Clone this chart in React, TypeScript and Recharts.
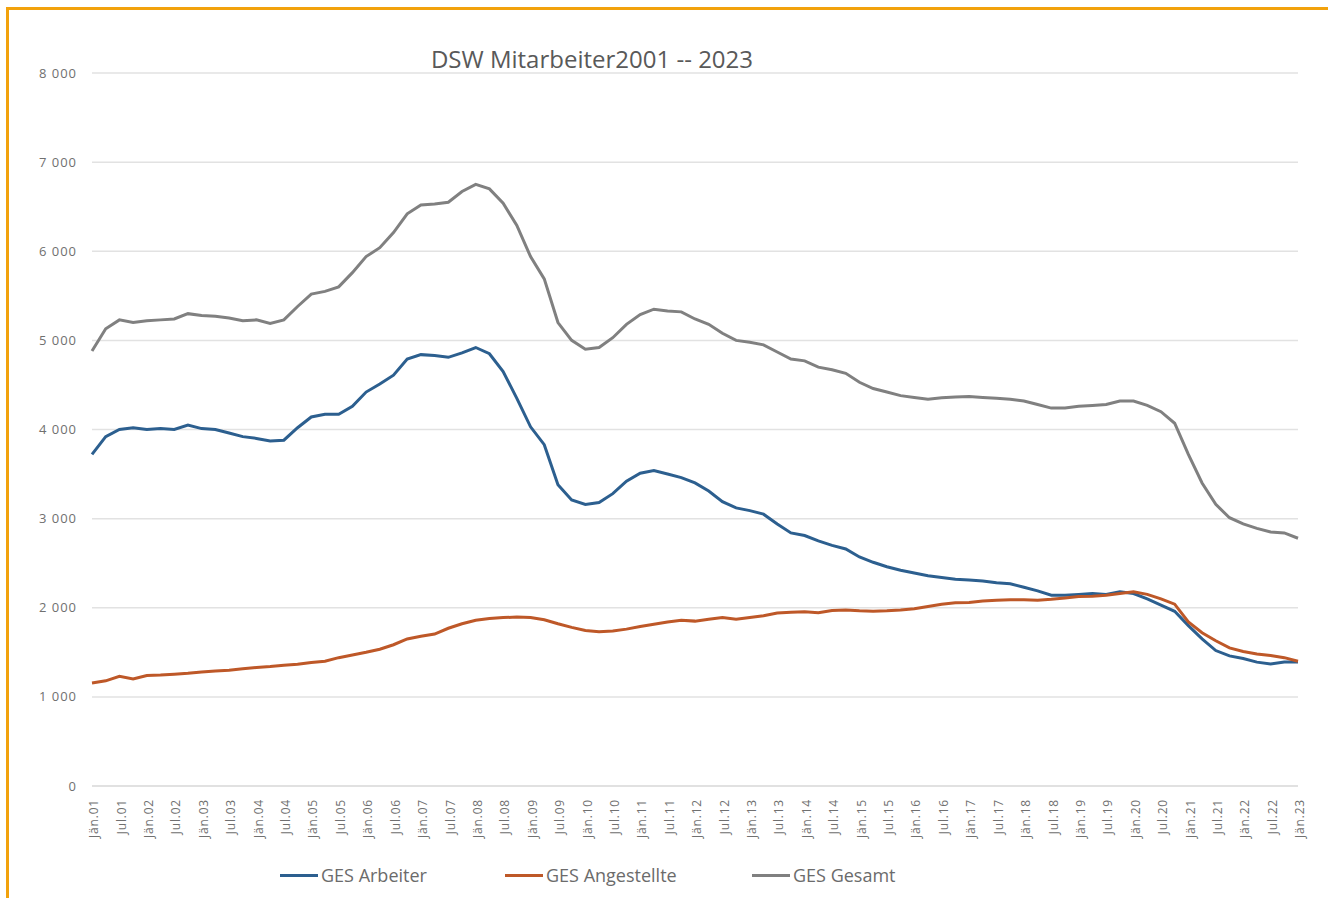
import React from "react"
import { LineChart, Line, XAxis, YAxis, CartesianGrid, Legend } from "recharts"

// quarterly readings, Jän.01 .. Jän.23
const years = ["01", "02", "03", "04", "05", "06", "07", "08", "09", "10", "11", "12", "13", "14", "15", "16", "17", "18", "19", "20", "21", "22"]
const months = ["Jän", "Apr", "Jul", "Okt"]
const categories = [...years.flatMap((y) => months.map((m) => `${m}.${y}`)), "Jän.23"]

const arbeiter = [
  3720, 3920, 4000, 4020, 4000, 4010, 4000, 4050, 4010, 4000, 3960, 3920, 3900, 3870, 3880, 4020,
  4140, 4170, 4170, 4260, 4420, 4510, 4610, 4790, 4840, 4830, 4810, 4860, 4920, 4850, 4650, 4350,
  4030, 3830, 3380, 3210, 3160, 3180, 3280, 3420, 3510, 3540, 3500, 3460, 3400, 3310, 3190, 3120,
  3090, 3050, 2940, 2840, 2810, 2750, 2700, 2660, 2570, 2510, 2460, 2420, 2390, 2360, 2340, 2320,
  2310, 2300, 2280, 2270, 2230, 2190, 2140, 2140, 2150, 2160, 2150, 2180, 2160, 2100, 2030, 1960,
  1800, 1650, 1520, 1460, 1430, 1390, 1370, 1390, 1390,
]

const angestellte = [
  1155, 1180, 1230, 1200, 1240, 1245, 1255, 1265, 1280, 1290, 1300, 1315, 1330, 1340, 1355, 1365,
  1385, 1400, 1440, 1470, 1500, 1535, 1585, 1650, 1680, 1705, 1770, 1820, 1860, 1880, 1890, 1895,
  1890, 1865, 1820, 1780, 1745, 1730, 1740, 1760, 1790, 1815, 1840, 1860, 1850, 1870, 1890, 1870,
  1890, 1910, 1940, 1950, 1955, 1945, 1970, 1975, 1965, 1960, 1965, 1975, 1990, 2015, 2040, 2055,
  2060, 2075, 2085, 2090, 2090, 2085, 2095, 2110, 2125, 2130, 2140, 2160, 2180, 2150, 2100, 2040,
  1840, 1720, 1630, 1550, 1510, 1480, 1465, 1440, 1400,
]

const gesamt = [
  4880, 5130, 5230, 5200, 5220, 5230, 5240, 5300, 5280, 5270, 5250, 5220, 5230, 5190, 5230, 5380,
  5520, 5550, 5600, 5760, 5940, 6040, 6210, 6420, 6520, 6530, 6550, 6670, 6750, 6700, 6540, 6290,
  5940, 5690, 5200, 5000, 4900, 4920, 5030, 5180, 5290, 5350, 5330, 5320, 5240, 5180, 5080, 5000,
  4980, 4950, 4870, 4790, 4770, 4700, 4670, 4630, 4530, 4460, 4420, 4380, 4360, 4340, 4355, 4365,
  4370, 4360, 4350, 4340, 4320, 4280, 4240, 4240, 4260, 4270, 4280, 4320, 4320, 4270, 4200, 4070,
  3720, 3400, 3160, 3010, 2940, 2890, 2850, 2840, 2780,
]

const yTicks = [0, 1000, 2000, 3000, 4000, 5000, 6000, 7000, 8000]

const series = [
  { key: "arbeiter", name: "GES Arbeiter", color: "#2C5F8F" },
  { key: "angestellte", name: "GES Angestellte", color: "#BE5828" },
  { key: "gesamt", name: "GES Gesamt", color: "#808080" },
]

const data = categories.map((c, i) => ({
  label: c,
  arbeiter: arbeiter[i],
  angestellte: angestellte[i],
  gesamt: gesamt[i],
}))

const font = "'Open Sans', sans-serif"
const textColor = "#595959"
const tickColor = "#707070"

const fmt = (v: number) => String(v).replace(/\B(?=(\d{3})+(?!\d))/g, " ")

const XTick = ({ x, y, payload }: any) => (
  <g transform={`translate(${x + 2},${y})`}>
    <text
      x={-11}
      y={0}
      dy="0.35em"
      transform="rotate(-90)"
      textAnchor="end"
      fill={tickColor}
      fontSize={12}
      letterSpacing={0.8}
      fontFamily={font}
    >
      {payload.value}
    </text>
  </g>
)

const legendLeft = [280, 505, 752]

const renderLegend = () => (
  <div style={{ position: "relative", height: 40, fontFamily: font, fontSize: 18, color: "#6B6B6B" }}>
    {series.map((s, i) => (
      <div key={s.key} style={{ position: "absolute", left: legendLeft[i], top: 15, display: "flex", alignItems: "center", whiteSpace: "nowrap" }}>
        <span style={{ display: "inline-block", width: 38, height: 3, background: s.color, marginRight: 3 }} />
        <span>{s.name}</span>
      </div>
    ))}
  </div>
)

export default function App() {
  return (
    <div style={{ position: "absolute", left: 0, top: 0, width: 1328, height: 898, background: "#fff", overflow: "hidden" }}>
      <div style={{ position: "absolute", left: 6, top: 7, right: 0, bottom: 0, borderTop: "3px solid #F2A20C", borderLeft: "3px solid #F2A20C" }} />
      <div style={{ position: "absolute", left: 0, width: 1184, top: 42, textAlign: "center", fontFamily: font, fontSize: 24, color: textColor }}>
        DSW Mitarbeiter2001 -- 2023
      </div>
      <LineChart width={1328} height={898} data={data} margin={{ top: 73, right: 30, left: 0, bottom: 10 }}>
        <CartesianGrid vertical={false} stroke="#E2E2E2" strokeWidth={1.5} />
        <XAxis
          dataKey="label"
          interval={1}
          height={62}
          tick={<XTick />}
          tickLine={false}
          tickSize={0}
          axisLine={{ stroke: "#D9D9D9" }}
        />
        <YAxis
          width={92}
          domain={[0, 8000]}
          ticks={yTicks}
          tickFormatter={fmt}
          tickLine={false}
          tickSize={0}
          tickMargin={15}
          axisLine={false}
          tick={{ fill: tickColor, fontSize: 13, fontFamily: font, letterSpacing: 1 }}
        />
        <Legend verticalAlign="bottom" height={40} content={renderLegend} />
        {series.map((s) => (
          <Line
            key={s.key}
            type="linear"
            dataKey={s.key}
            name={s.name}
            stroke={s.color}
            strokeWidth={3}
            dot={false}
            isAnimationActive={false}
          />
        ))}
      </LineChart>
    </div>
  )
}
